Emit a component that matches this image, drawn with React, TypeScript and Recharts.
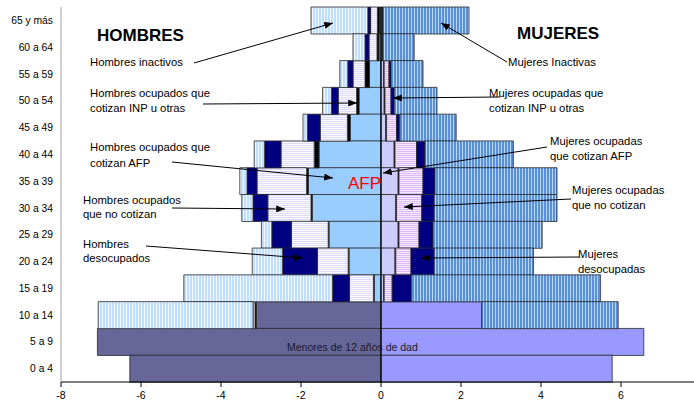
import React from "react";
import { BarChart, Bar, XAxis, YAxis, ReferenceLine } from "recharts";

const ages = [
  "65 y más", "60 a 64", "55 a 59", "50 a 54", "45 a 49", "40 a 44", "35 a 39",
  "30 a 34", "25 a 29", "20 a 24", "15 a 19", "10 a 14", "5 a 9", "0 a 4",
];

// hombres (valores en %, se dibujan a la izquierda)
const menMenores = [0, 0, 0, 0, 0, 0, 0, 0, 0, 0, 0, 3.12, 7.09, 6.28];
const menAFP = [0.04, 0.05, 0.29, 0.55, 0.77, 1.55, 1.82, 1.72, 1.3, 0.8, 0.17, 0, 0, 0];
const menINP = [0.05, 0.05, 0.11, 0.06, 0.07, 0.12, 0.04, 0.03, 0.02, 0.02, 0.02, 0.03, 0, 0];
const menNoCot = [0.17, 0.2, 0.3, 0.46, 0.68, 0.83, 1.24, 1.08, 0.92, 0.77, 0.6, 0.05, 0, 0];
const menDesoc = [0.07, 0.1, 0.13, 0.17, 0.32, 0.41, 0.25, 0.37, 0.49, 0.87, 0.42, 0, 0, 0];
const menInact = [1.42, 0.3, 0.2, 0.22, 0.11, 0.26, 0.18, 0.28, 0.26, 0.76, 3.72, 3.87, 0, 0];

// mujeres
const womMenores = [0, 0, 0, 0, 0, 0, 0, 0, 0, 0, 0, 2.52, 6.57, 5.78];
const womAFP = [0.03, 0.03, 0.07, 0.08, 0.12, 0.33, 0.43, 0.37, 0.43, 0.35, 0.07, 0, 0, 0];
const womINP = [0.02, 0.02, 0.01, 0.02, 0.02, 0.02, 0.02, 0.02, 0.02, 0.02, 0.01, 0, 0, 0];
const womNoCot = [0, 0, 0.12, 0.15, 0.25, 0.54, 0.6, 0.63, 0.5, 0.38, 0.2, 0, 0, 0];
const womDesoc = [0, 0, 0.05, 0.08, 0.08, 0.21, 0.3, 0.31, 0.35, 0.58, 0.48, 0, 0, 0];
const womInact = [2.15, 0.78, 0.8, 1.07, 1.41, 2.21, 3.05, 3.07, 2.73, 2.48, 4.73, 3.41, 0, 0];

const xTicks = [-8, -6, -4, -2, 0, 2, 4, 6];

const data = ages.map((age, i) => ({
  age,
  mMen: -menMenores[i],
  mAFP: -menAFP[i],
  mINP: -menINP[i],
  mNoCot: -menNoCot[i],
  mDesoc: -menDesoc[i],
  mInact: -menInact[i],
  wMen: womMenores[i],
  wAFP: womAFP[i],
  wINP: womINP[i],
  wNoCot: womNoCot[i],
  wDesoc: womDesoc[i],
  wInact: womInact[i],
}));

const series = [
  { key: "mMen", fill: "#666699" },
  { key: "mAFP", fill: "#99ccff" },
  { key: "mINP", fill: "#000000" },
  { key: "mNoCot", fill: "url(#pMenNoCot)" },
  { key: "mDesoc", fill: "#000080" },
  { key: "mInact", fill: "url(#pMenInact)" },
  { key: "wMen", fill: "#9999ff" },
  { key: "wAFP", fill: "#ccccff" },
  { key: "wINP", fill: "#000000" },
  { key: "wNoCot", fill: "url(#pWomNoCot)" },
  { key: "wDesoc", fill: "#000080" },
  { key: "wInact", fill: "url(#pWomInact)" },
];

const font = "'Liberation Sans', Arial, sans-serif";

const arrows = [
  [194, 63, 333, 23],
  [203, 104, 357, 103],
  [172, 162, 333, 178],
  [172, 208, 285, 209],
  [146, 246, 303, 258],
  [507, 62, 441, 23],
  [500, 97, 393, 98],
  [547, 147, 383, 173],
  [571, 199, 404, 207],
  [579, 257, 421, 258],
];

const notes = [
  { x: 90, y: 66, t: "Hombres inactivos" },
  { x: 90, y: 97, t: "Hombres ocupados que" },
  { x: 90, y: 112, t: "cotizan INP u otras" },
  { x: 90, y: 151, t: "Hombres ocupados que" },
  { x: 90, y: 167, t: "cotizan AFP" },
  { x: 83, y: 204, t: "Hombres ocupados" },
  { x: 83, y: 218, t: "que no cotizan" },
  { x: 83, y: 248, t: "Hombres" },
  { x: 83, y: 262, t: "desocupados" },
  { x: 508, y: 66, t: "Mujeres Inactivas" },
  { x: 489, y: 97, t: "Mujeres ocupadas que" },
  { x: 489, y: 112, t: "cotizan INP u otras" },
  { x: 550, y: 145, t: "Mujeres ocupadas" },
  { x: 550, y: 160, t: "que cotizan AFP" },
  { x: 572, y: 194, t: "Mujeres ocupadas" },
  { x: 572, y: 209, t: "que no cotizan" },
  { x: 578, y: 258, t: "Mujeres" },
  { x: 578, y: 273, t: "desocupadas" },
];

export default function App() {
  return (
    <div style={{ position: "absolute", left: 0, top: 0, width: 694, height: 404, fontFamily: font }}>
      <svg width="0" height="0" style={{ position: "absolute" }}>
        <defs>
          <pattern id="pMenInact" width="3" height="4" patternUnits="userSpaceOnUse">
            <rect width="3" height="4" fill="#c2deff" />
            <rect width="1" height="4" fill="#f2f8ff" />
          </pattern>
          <pattern id="pWomInact" width="3" height="4" patternUnits="userSpaceOnUse">
            <rect width="3" height="4" fill="#5b8fd6" />
            <rect width="1" height="4" fill="#b4d6f8" />
          </pattern>
          <pattern id="pMenNoCot" width="4" height="2" patternUnits="userSpaceOnUse">
            <rect width="4" height="2" fill="#dcdcf8" />
            <rect width="4" height="1" fill="#fafaff" />
          </pattern>
          <pattern id="pWomNoCot" width="4" height="2" patternUnits="userSpaceOnUse">
            <rect width="4" height="2" fill="#dcb8f4" />
            <rect width="4" height="1" fill="#f6eaff" />
          </pattern>
        </defs>
      </svg>
      <BarChart
        width={694}
        height={404}
        data={data}
        layout="vertical"
        stackOffset="sign"
        barCategoryGap={0}
        barGap={0}
        margin={{ top: 7, right: 0, bottom: 0, left: 0 }}
      >
        <XAxis
          type="number"
          domain={[-8, 7.825]}
          ticks={xTicks}
          allowDataOverflow
          axisLine={{ stroke: "#000" }}
          tickLine={{ stroke: "#000" }}
          tickSize={5}
          tickMargin={5}
          height={22}
          tick={{ fontSize: 10.5, fill: "#000", fontFamily: font }}
        />
        <XAxis
          xAxisId="top"
          orientation="top"
          type="number"
          domain={[-8, 7.825]}
          height={0}
          tick={false}
          tickLine={false}
          axisLine={{ stroke: "#a0a0a0" }}
        />
        <YAxis
          type="category"
          dataKey="age"
          width={61}
          tickLine={false}
          axisLine={{ stroke: "#a0a0a0" }}
          tick={{ fontSize: 10.3, fill: "#000", fontFamily: font }}
        />
        {series.map((s) => (
          <Bar
            key={s.key}
            dataKey={s.key}
            stackId="p"
            fill={s.fill}
            stroke="#2a2a2a"
            strokeWidth={0.8}
            isAnimationActive={false}
          />
        ))}
        <ReferenceLine x={0} stroke="#000" strokeWidth={1.2} />
      </BarChart>
      <svg
        width={694}
        height={404}
        style={{ position: "absolute", left: 0, top: 0, pointerEvents: "none", fontFamily: font }}
      >
        <defs>
          <marker id="ah" viewBox="0 0 10 8" refX="10" refY="4" markerWidth="9" markerHeight="7" markerUnits="userSpaceOnUse" orient="auto">
            <path d="M0,0 L10,4 L0,8 z" fill="#000" />
          </marker>
        </defs>
        {arrows.map((a, i) => (
          <line key={i} x1={a[0]} y1={a[1]} x2={a[2]} y2={a[3]} stroke="#000" strokeWidth={1} markerEnd="url(#ah)" />
        ))}
        {notes.map((n, i) => (
          <text key={i} x={n.x} y={n.y} fontSize={11.3} fill="#000">
            {n.t}
          </text>
        ))}
        <text x={97} y={41} fontSize={17} fontWeight="bold" fill="#000">HOMBRES</text>
        <text x={517} y={39} fontSize={17} fontWeight="bold" fill="#000">MUJERES</text>
        <text x={348} y={189} fontSize={17} fill="#ff0000">AFP</text>
        <text x={287} y={351} fontSize={10.5} fill="#1a1a2e">Menores de 12 años de dad</text>
      </svg>
    </div>
  );
}
